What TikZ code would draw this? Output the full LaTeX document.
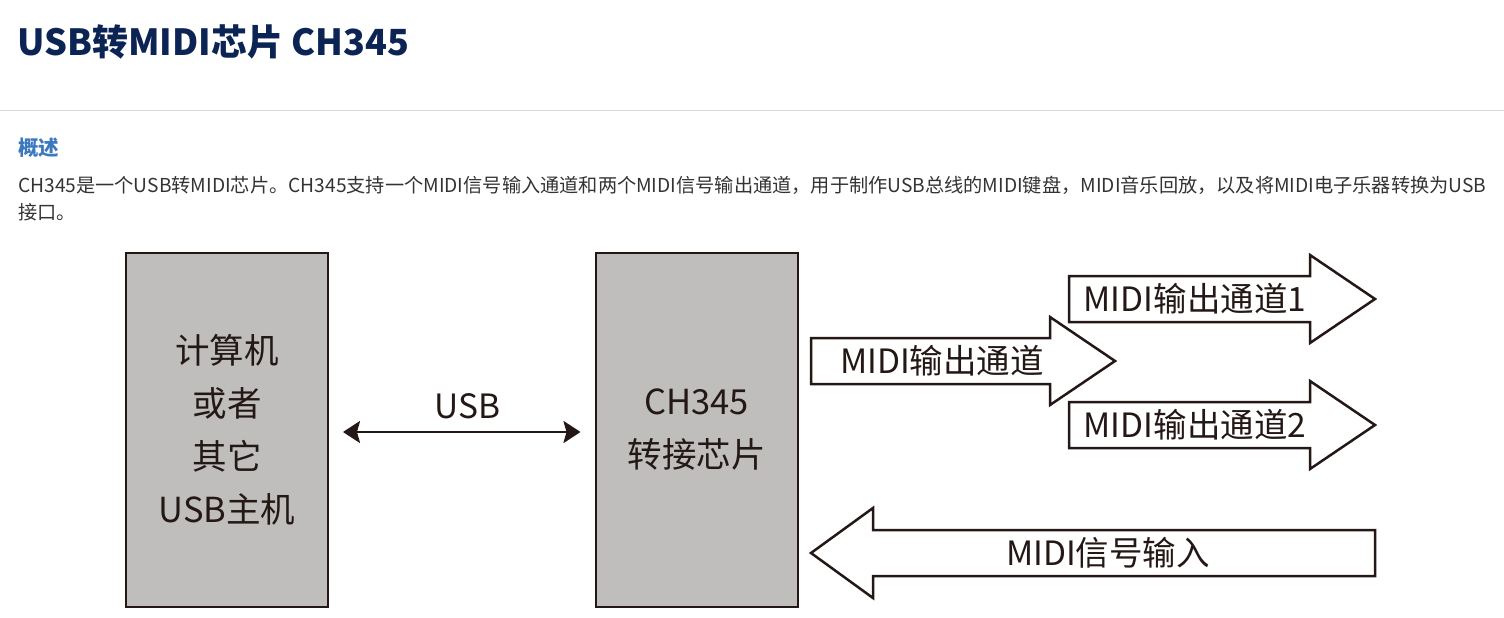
\documentclass[tikz,border=0pt]{standalone}
\usepackage{fontspec}
\setmainfont{Noto Sans CJK SC}
\usetikzlibrary{arrows.meta}
\definecolor{titlenavy}{HTML}{0B2454}
\definecolor{headblue}{HTML}{3C78BE}
\definecolor{bodygray}{HTML}{333333}
\definecolor{rulegray}{HTML}{D6D9DC}
\definecolor{boxgray}{HTML}{BFBEBD}
\definecolor{inkdark}{HTML}{231815}
\tikzset{
  box/.style={draw=inkdark, line width=2pt, fill=boxgray, minimum width=202pt,
    minimum height=354pt, align=center, inner sep=0pt,
    font=\fontsize{34.5}{53}\selectfont, text=inkdark},
  blockline/.style={draw=inkdark, line width=2.5pt, fill=white, line join=miter},
  arrowtext/.style={font=\fontsize{33.5}{38}\selectfont, text=inkdark, inner sep=0pt},
  para/.style={anchor=base west, inner sep=0pt, text=bodygray, font=\fontsize{19.2}{27}\selectfont}
}
\newcommand{\rightblock}[4]
{   \draw[blockline] (#1,#4-23) -- (#2,#4-23) -- (#2,#4-44) -- (#3,#4) -- (#2,#4+44) -- (#2,#4+23) -- (#1,#4+23) -- cycle;
}
\newcommand{\leftblock}[4]
{   \draw[blockline] (#1,#4-23) -- (#2,#4-23) -- (#2,#4-45) -- (#3,#4) -- (#2,#4+45) -- (#2,#4+23) -- (#1,#4+23) -- cycle;
}
\begin{document}
\begin{tikzpicture}[x=1pt,y=-1pt]
  \useasboundingbox (0,0) rectangle (1504,618);

  % page header
  \node[anchor=west, inner sep=0pt, text=titlenavy, font=\fontsize{36}{40}\selectfont\bfseries] (title) at (17,42) {USB转MIDI芯片 CH345};
  \draw[rulegray, line width=1pt] (0,110) -- (1504,110);
  \node[anchor=west, inner sep=0pt, text=headblue, font=\fontsize{20.5}{24}\selectfont\bfseries] (overview) at (18,148) {概述};
  \node[para] (desc) at (18,192) {CH345是一个USB转MIDI芯片。CH345支持一个MIDI信号输入通道和两个MIDI信号输出通道，用于制作USB总线的MIDI键盘，MIDI音乐回放，以及将MIDI电子乐器转换为USB};
  \node[para] (desc2) at (18,219) {接口。};

  % boxes
  \node[box] (host) at (227,430) {计算机\\或者\\其它\\USB主机};
  \node[box] (chip) at (696.5,430) {CH345\\转接芯片};
  \draw[inkdark, line width=2.5pt, {Stealth[length=17pt,width=22pt,inset=3pt]}-{Stealth[length=17pt,width=22pt,inset=3pt]}, shorten <=14pt, shorten >=14pt]
    ([yshift=-2pt]host.east) -- node[above=12pt, xshift=6pt, arrowtext] (usb) {USB} ([yshift=-2pt]chip.west);

  % MIDI channels
  \rightblock{811}{1050}{1115}{361}
  \rightblock{1069}{1310}{1375}{299}
  \rightblock{1069}{1310}{1375}{425}
  \leftblock{1375}{873}{811}{553}
  \node[arrowtext] (out) at (942,361) {MIDI输出通道};
  \node[arrowtext] (out1) at (1195,299) {MIDI输出通道1};
  \node[arrowtext] (out2) at (1195,425) {MIDI输出通道2};
  \node[arrowtext] (in) at (1108,553) {MIDI信号输入};
\end{tikzpicture}
\end{document}
